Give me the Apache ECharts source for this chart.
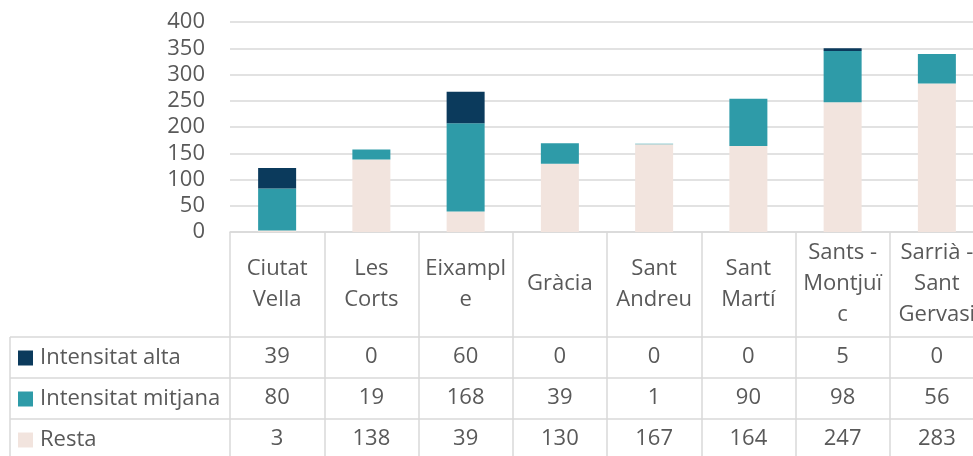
<!DOCTYPE html>
<html>
<head>
<meta charset="utf-8">
<script src="https://cdn.jsdelivr.net/npm/echarts@6/dist/echarts.min.js"></script>
<style>
  html, body { margin: 0; padding: 0; background: #fff; overflow: hidden; }
  #chart { width: 984px; height: 456px; }
</style>
</head>
<body>
<div id="chart"></div>
<script>
// dades
var districtes = ['Ciutat\nVella', 'Les\nCorts', 'Eixampl\ne', 'Gràcia', 'Sant\nAndreu', 'Sant\nMartí', 'Sants -\nMontjuï\nc', 'Sarrià -\nSant\nGervasi'];
var alta = [39, 0, 60, 0, 0, 0, 5, 0];
var mitjana = [80, 19, 168, 39, 1, 90, 98, 56];
var resta = [3, 138, 39, 130, 167, 164, 247, 283];
var yTicks = [0, 50, 100, 150, 200, 250, 300, 350, 400];

var colAlta = '#0B3A5C';
var colMitjana = '#2E9BA8';
var colResta = '#F2E4DE';
var gris = '#595959';
var vora = '#d9d9d9';
var font = '"Open Sans", "Noto Sans", sans-serif';
var fs = 22;

// la taula surt tallada per la dreta com a l'original
var myChart = echarts.init(document.getElementById('chart'));

// fila de valors de la taula (un eix per fila)
var filaEix = function (vals, offset) {
  return {
    type: 'category',
    gridIndex: 0,
    position: 'bottom',
    offset: offset,
    data: vals.map(String),
    axisLine: { show: false },
    axisTick: { show: false },
    axisLabel: { interval: 0, margin: 0, verticalAlign: 'middle', fontSize: fs, color: gris, fontFamily: font }
  };
};

var option = {
  animation: false,
  textStyle: { fontFamily: font },
  grid: { left: 230, top: 22, height: 210, right: 0 },
  legend: {
    orient: 'vertical',
    left: 18,
    top: 347,
    padding: 0,
    itemGap: 19,
    itemWidth: 15,
    itemHeight: 15,
    icon: 'rect',
    selectedMode: false,
    data: ['Intensitat alta', 'Intensitat mitjana', 'Resta'],
    textStyle: { fontSize: fs, lineHeight: 22, color: gris, fontFamily: font, padding: [0, 0, 0, 2] }
  },
  xAxis: [
    {
      type: 'category',
      data: districtes,
      axisLine: { lineStyle: { color: vora, width: 1.5 } },
      axisTick: { show: true, interval: 0, length: 230, lineStyle: { color: vora, width: 1.5 } },
      axisLabel: { interval: 0, margin: 52, verticalAlign: 'middle', fontSize: fs, lineHeight: 31, color: gris, fontFamily: font }
    },
    filaEix(alta, 125),
    filaEix(mitjana, 166),
    filaEix(resta, 207)
  ],
  yAxis: {
    type: 'value',
    min: yTicks[0],
    max: yTicks[yTicks.length - 1],
    interval: 50,
    axisLine: { show: false },
    axisTick: { show: false },
    axisLabel: { margin: 25, fontSize: fs, color: gris, fontFamily: font },
    splitLine: { lineStyle: { color: vora, width: 1.5 } }
  },
  series: [
    { name: 'Resta', type: 'bar', stack: 'total', barWidth: 38, data: resta, itemStyle: { color: colResta } },
    { name: 'Intensitat mitjana', type: 'bar', stack: 'total', barWidth: 38, data: mitjana, itemStyle: { color: colMitjana } },
    { name: 'Intensitat alta', type: 'bar', stack: 'total', barWidth: 38, data: alta, itemStyle: { color: colAlta } }
  ],
  graphic: [
    // vores de la taula
    { type: 'line', shape: { x1: 10, y1: 337, x2: 984, y2: 337 }, style: { stroke: vora, lineWidth: 1.5 } },
    { type: 'line', shape: { x1: 10, y1: 378, x2: 984, y2: 378 }, style: { stroke: vora, lineWidth: 1.5 } },
    { type: 'line', shape: { x1: 10, y1: 419, x2: 984, y2: 419 }, style: { stroke: vora, lineWidth: 1.5 } },
    { type: 'line', shape: { x1: 10, y1: 337, x2: 10, y2: 456 }, style: { stroke: vora, lineWidth: 1.5 } }
  ]
};

myChart.setOption(option);
</script>
</body>
</html>
